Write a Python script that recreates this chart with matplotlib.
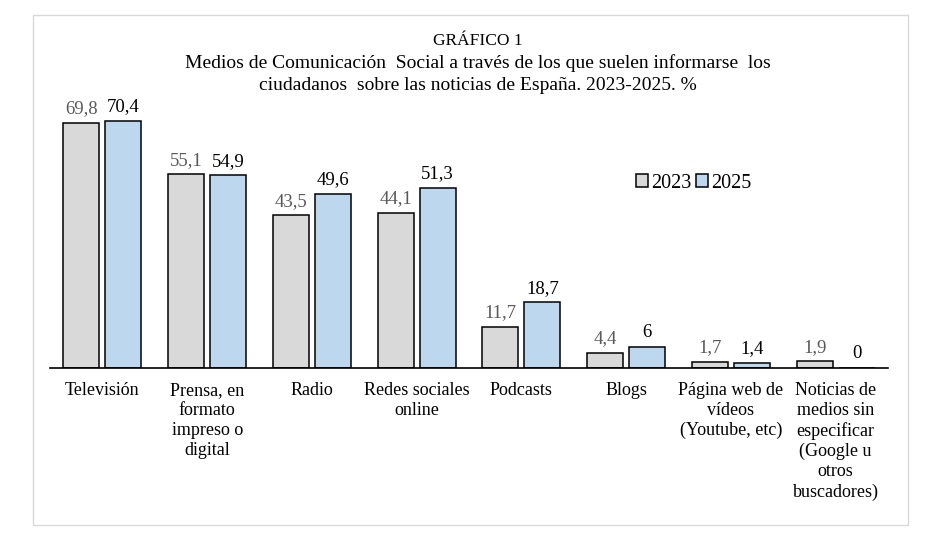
import matplotlib.pyplot as plt
from matplotlib.patches import Rectangle
import numpy as np

plt.rcParams['font.family'] = ['Liberation Serif', 'DejaVu Serif']

# datos
categorias = ['Televisión', 'Prensa, en\nformato\nimpreso o\ndigital', 'Radio',
              'Redes sociales\nonline', 'Podcasts', 'Blogs',
              'Página web de\nvídeos\n(Youtube, etc)',
              'Noticias de\nmedios sin\nespecificar\n(Google u\notros\nbuscadores)']
v2023 = [69.8, 55.1, 43.5, 44.1, 11.7, 4.4, 1.7, 1.9]
v2025 = [70.4, 54.9, 49.6, 51.3, 18.7, 6, 1.4, 0]
etiq2023 = ['69,8', '55,1', '43,5', '44,1', '11,7', '4,4', '1,7', '1,9']
etiq2025 = ['70,4', '54,9', '49,6', '51,3', '18,7', '6', '1,4', '0']

fig = plt.figure(figsize=(9.33, 5.51), dpi=100)
# marco exterior
fig.patches.append(Rectangle((33 / 933, 1 - 525 / 551), 875 / 933, 510 / 551,
                             transform=fig.transFigure, fill=False,
                             edgecolor='#d9d9d9', linewidth=1))

ax = fig.add_axes([50 / 933, 1 - 368 / 551, 838 / 933, 281 / 551])
x = np.arange(len(categorias))
w = 0.345
ax.bar(x - 0.2, v2023, w, color='#d9d9d9', edgecolor='black', linewidth=1.1, label='2023')
ax.bar(x + 0.2, v2025, w, color='#bdd7ee', edgecolor='black', linewidth=1.1, label='2025')

for xi, v, t in zip(x, v2023, etiq2023):
    ax.annotate(t, (xi - 0.2, v), xytext=(0, 4), textcoords='offset points',
                ha='center', va='bottom', fontsize=13.5, color='#595959')
for xi, v, t in zip(x, v2025, etiq2025):
    ax.annotate(t, (xi + 0.2, v), xytext=(0, 4), textcoords='offset points',
                ha='center', va='bottom', fontsize=13.5, color='black')

ax.set_xlim(-0.5, len(categorias) - 0.5)
ax.set_ylim(0, 80)
ax.set_yticks([])
ax.set_xticks(x)
ax.set_xticklabels(categorias, fontsize=13, linespacing=1.23, va='top')
ax.tick_params(axis='x', length=0, pad=10)
for s in ['top', 'right', 'left']:
    ax.spines[s].set_visible(False)
ax.spines['bottom'].set_linewidth(1.2)

ax.legend(loc='upper left', bbox_to_anchor=(0.678, 0.755), ncol=2, frameon=False,
          fontsize=14.5, handlelength=0.6, handleheight=0.6, handletextpad=0.15,
          columnspacing=0.2)

fig.text(478 / 933, 1 - 41 / 551, 'GRÁFICO 1', ha='center', va='center', fontsize=12.5)
fig.text(478 / 933, 1 - 74 / 551,
         'Medios de Comunicación  Social a través de los que suelen informarse  los\n'
         'ciudadanos  sobre las noticias de España. 2023-2025. %',
         ha='center', va='center', fontsize=14, linespacing=1.4)

fig.savefig('out.png', dpi=100)
